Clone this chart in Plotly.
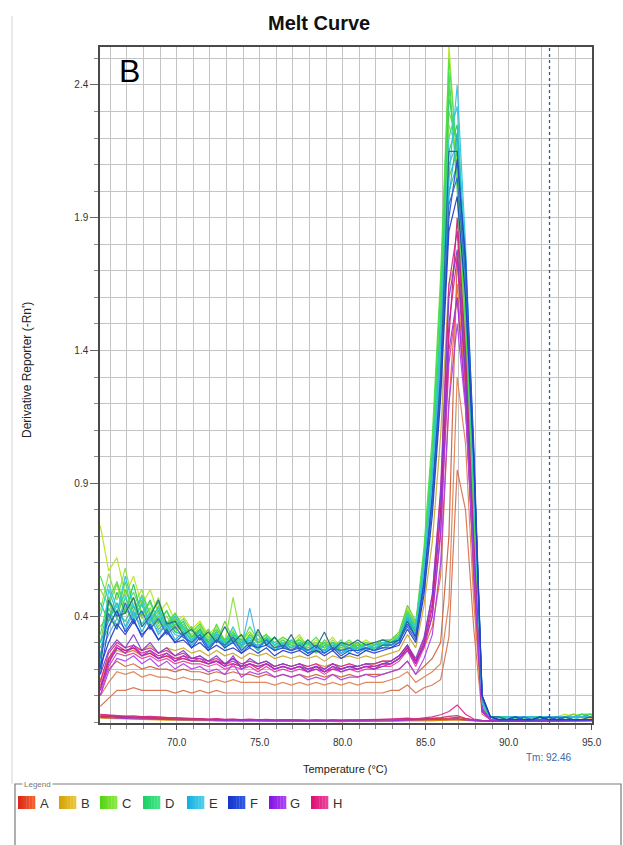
import plotly.graph_objects as go

# ---------------- data (values in hundredths of Derivative Reporter) ----------------
TEMPS = [65.4, 65.9, 66.4, 66.9, 67.4, 67.9, 68.4, 68.9, 69.4, 69.9,
         70.4, 70.9, 71.4, 71.9, 72.4, 72.9, 73.4, 73.9, 74.4, 74.9, 75.4, 75.9, 76.4,
         76.9, 77.4, 77.9, 78.4, 78.9, 79.4, 79.9, 80.4, 80.9, 81.4, 81.9, 82.4, 82.9,
         83.4, 83.9, 84.4, 84.9, 85.4, 85.9, 86.4, 86.9, 87.4, 87.9, 88.4, 88.9,
         89.4, 89.9, 90.4, 90.9, 91.4, 91.9, 92.4, 92.9, 93.4, 93.9, 94.4, 94.9, 95.4]

TM_VALUE = 92.46

ROW_A = [
    [6, 9, 12, 12, 13, 12, 12, 12, 12, 11,
     12, 11, 12, 11, 12, 11, 11, 11, 11, 11, 11, 11, 11,
     11, 11, 11, 11, 11, 11, 11, 11, 11, 11, 11, 11, 12,
     12, 14, 11, 13, 14, 16, 32, 95, 80, 35, 3, 1,
     1, 1, 1, 1, 1, 1, 1, 1, 1, 1, 1, 1, 1],
    [10, 15, 19, 18, 19, 17, 18, 17, 17, 16,
     17, 16, 16, 15, 16, 15, 16, 15, 15, 15, 15, 14, 15,
     14, 15, 14, 15, 14, 15, 14, 15, 14, 15, 15, 15, 16,
     17, 19, 15, 17, 19, 22, 45, 130, 105, 45, 4, 1,
     1, 1, 1, 1, 1, 1, 1, 1, 1, 1, 1, 1, 1],
    [14, 20, 23, 21, 22, 20, 21, 20, 20, 19,
     20, 19, 19, 18, 19, 18, 19, 18, 18, 17, 18, 17, 18,
     17, 18, 17, 18, 17, 18, 17, 18, 17, 18, 18, 18, 19,
     20, 23, 18, 21, 24, 30, 70, 175, 130, 52, 4, 1,
     1, 1, 1, 1, 1, 1, 1, 1, 1, 1, 1, 1, 1],
    [16, 24, 28, 26, 27, 25, 26, 24, 25, 24,
     24, 23, 23, 22, 23, 22, 22, 21, 22, 21, 22, 21, 22,
     21, 22, 21, 22, 21, 22, 21, 22, 21, 22, 22, 23, 23,
     25, 29, 23, 28, 36, 55, 120, 165, 125, 55, 4, 1,
     1, 1, 1, 1, 1, 1, 1, 1, 1, 1, 1, 1, 1],
    [2.8, 2.6, 2.2, 2.0, 1.8, 1.9, 1.6, 1.5, 1.4, 1.3,
     1.2, 1.0, 1.3, 0.9, 1.1, 0.8, 1.0, 0.8, 0.9, 0.7, 0.9, 0.6, 0.8,
     0.7, 0.8, 0.6, 0.7, 0.6, 0.7, 0.5, 0.6, 0.6, 0.7, 0.6, 0.7, 0.8,
     0.9, 1.0, 0.9, 1.0, 1.1, 1.2, 1.5, 1.8, 1.2, 0.8, 0.6, 0.5,
     0.5, 0.5, 0.6, 0.5, 0.5, 0.6, 0.5, 0.6, 0.7, 0.6, 0.7, 0.8, 0.8],
    [2.2, 2.4, 2.0, 1.9, 1.7, 1.6, 1.7, 1.4, 1.3, 1.2,
     1.0, 1.1, 0.8, 1.0, 0.7, 0.9, 0.6, 0.8, 0.7, 0.8, 0.5, 0.7, 0.6,
     0.7, 0.5, 0.6, 0.5, 0.7, 0.4, 0.6, 0.5, 0.6, 0.5, 0.6, 0.7, 0.7,
     0.8, 0.9, 0.8, 0.9, 1.0, 1.1, 1.3, 1.4, 1.0, 0.7, 0.5, 0.4,
     0.4, 0.5, 0.4, 0.5, 0.5, 0.4, 0.5, 0.5, 0.6, 0.5, 0.6, 0.6, 0.7],
    [2.0, 2.1, 1.8, 1.6, 1.5, 1.4, 1.3, 1.2, 1.1, 1.0,
     0.9, 0.8, 0.9, 0.6, 0.7, 0.5, 0.6, 0.4, 0.5, 0.4, 0.5, 0.3, 0.4,
     0.3, 0.4, 0.3, 0.4, 0.3, 0.3, 0.2, 0.3, 0.3, 0.4, 0.3, 0.4, 0.4,
     0.5, 0.6, 0.5, 0.6, 0.6, 0.7, 0.9, 1.0, 0.7, 0.5, 0.3, 0.3,
     0.3, 0.3, 0.4, 0.3, 0.3, 0.4, 0.3, 0.4, 0.4, 0.4, 0.5, 0.5, 0.5],
]

ROW_B = [
    [15, 24, 27, 26, 28, 27, 29, 26, 28, 27,
     28, 26, 27, 25, 27, 25, 26, 24, 26, 25, 26, 24, 25,
     24, 25, 24, 25, 23, 25, 24, 25, 24, 25, 24, 25, 26,
     27, 33, 28, 44, 68, 108, 165, 176, 140, 80, 7, 2,
     2, 2, 2, 2, 2, 2, 2, 2, 2, 3, 2, 2, 2],
    [1.5, 1.4, 1.2, 1.1, 1.0, 1.1, 0.9, 0.9, 0.8, 0.8,
     0.7, 0.8, 0.6, 0.7, 0.5, 0.6, 0.5, 0.6, 0.4, 0.5, 0.4, 0.5, 0.4,
     0.4, 0.5, 0.4, 0.4, 0.3, 0.4, 0.4, 0.5, 0.4, 0.5, 0.5, 0.5, 0.6,
     0.6, 0.7, 0.6, 0.7, 0.7, 0.8, 0.9, 1.0, 0.8, 0.6, 0.5, 0.5,
     0.5, 0.5, 0.6, 0.6, 0.7, 0.7, 0.8, 0.8, 0.9, 1.0, 1.1, 1.2, 1.3],
]

ROW_C = [
    [74, 57, 62, 48, 55, 44, 50, 41, 45, 38,
     40, 35, 38, 33, 36, 31, 35, 30, 34, 31, 33, 29, 32,
     30, 33, 28, 31, 29, 32, 28, 30, 29, 31, 29, 30, 31,
     33, 43, 37, 60, 95, 150, 255, 210, 140, 70, 5, 2,
     2, 2, 1, 2, 2, 1, 2, 2, 3, 2, 2, 3, 3],
    [50, 44, 52, 41, 47, 39, 43, 36, 40, 34,
     37, 32, 36, 30, 34, 29, 33, 28, 32, 30, 31, 28, 30,
     29, 31, 27, 30, 28, 30, 27, 29, 28, 30, 28, 29, 30,
     32, 41, 35, 62, 100, 155, 230, 220, 160, 85, 6, 2,
     2, 1, 2, 2, 1, 2, 2, 2, 2, 3, 2, 2, 3],
    [30, 45, 39, 50, 42, 46, 37, 44, 35, 39,
     33, 36, 31, 35, 30, 38, 31, 33, 29, 34, 30, 32, 28,
     31, 29, 30, 27, 31, 28, 29, 30, 28, 29, 30, 29, 31,
     34, 44, 38, 58, 90, 140, 240, 205, 150, 75, 4, 2,
     2, 2, 2, 1, 2, 2, 2, 2, 2, 2, 3, 3, 3],
    [42, 56, 46, 58, 44, 50, 40, 47, 36, 41,
     36, 33, 37, 31, 35, 30, 47, 31, 34, 30, 33, 29, 31,
     28, 32, 29, 30, 28, 31, 27, 29, 30, 28, 29, 31, 30,
     33, 42, 36, 64, 102, 160, 225, 215, 165, 90, 7, 2,
     1, 2, 2, 2, 1, 2, 2, 1, 2, 2, 2, 3, 2],
    [36, 40, 35, 43, 38, 45, 35, 40, 34, 37,
     35, 31, 34, 30, 33, 31, 32, 29, 33, 30, 31, 28, 30,
     28, 30, 27, 29, 28, 30, 27, 28, 29, 28, 28, 30, 30,
     32, 40, 34, 55, 88, 138, 205, 215, 170, 95, 8, 2,
     2, 1, 2, 1, 2, 2, 1, 2, 2, 2, 2, 2, 3],
]

ROW_D = [
    [25, 43, 36, 47, 40, 44, 38, 42, 35, 40,
     34, 31, 35, 29, 33, 28, 32, 29, 31, 28, 32, 27, 30,
     28, 30, 27, 29, 27, 30, 26, 28, 28, 29, 28, 29, 30,
     32, 40, 35, 61, 98, 152, 235, 218, 158, 80, 6, 2,
     2, 2, 1, 2, 2, 2, 1, 2, 2, 2, 2, 3, 2],
    [45, 38, 49, 41, 52, 40, 46, 37, 42, 35,
     38, 32, 35, 30, 34, 29, 33, 31, 30, 33, 29, 32, 28,
     30, 29, 31, 28, 30, 27, 29, 28, 30, 27, 29, 30, 29,
     31, 39, 34, 57, 93, 145, 215, 225, 172, 92, 7, 2,
     2, 2, 2, 1, 2, 1, 2, 2, 2, 2, 3, 2, 2],
    [33, 47, 40, 53, 39, 48, 41, 45, 37, 41,
     36, 32, 34, 29, 37, 30, 34, 28, 33, 30, 32, 29, 31,
     29, 28, 30, 26, 29, 28, 31, 27, 28, 29, 30, 28, 29,
     31, 41, 36, 63, 104, 163, 245, 200, 135, 68, 4, 1,
     2, 2, 1, 2, 2, 2, 2, 1, 2, 2, 2, 2, 3],
    [28, 36, 42, 38, 44, 37, 41, 35, 38, 34,
     33, 30, 34, 29, 32, 28, 31, 29, 30, 27, 31, 28, 29,
     27, 29, 26, 28, 27, 29, 26, 27, 28, 27, 28, 29, 29,
     31, 38, 33, 54, 86, 135, 200, 210, 165, 92, 8, 2,
     1, 2, 2, 2, 1, 2, 2, 2, 1, 2, 2, 2, 2],
    [55, 46, 53, 43, 49, 41, 45, 38, 42, 36,
     39, 34, 37, 32, 35, 31, 34, 30, 36, 31, 33, 30, 32,
     30, 31, 29, 32, 28, 30, 29, 31, 28, 30, 29, 31, 31,
     33, 42, 37, 66, 108, 168, 250, 212, 148, 74, 5, 2,
     2, 2, 2, 2, 1, 2, 2, 2, 2, 2, 3, 3, 2],
]

ROW_E = [
    [22, 50, 41, 55, 43, 47, 39, 43, 36, 40,
     35, 31, 34, 29, 33, 30, 36, 29, 32, 28, 31, 30, 29,
     31, 28, 30, 27, 29, 28, 30, 26, 29, 28, 29, 30, 30,
     32, 40, 35, 58, 92, 140, 205, 240, 180, 100, 9, 2,
     2, 1, 2, 2, 2, 1, 2, 2, 2, 2, 2, 2, 2],
    [30, 38, 45, 36, 42, 34, 40, 33, 37, 31,
     34, 29, 33, 28, 32, 29, 31, 27, 30, 29, 30, 27, 29,
     27, 29, 26, 28, 27, 29, 26, 28, 27, 28, 27, 29, 29,
     31, 39, 33, 55, 88, 136, 198, 222, 176, 98, 8, 2,
     2, 2, 1, 2, 1, 2, 2, 1, 2, 2, 2, 2, 2],
    [40, 52, 43, 48, 38, 45, 36, 41, 34, 38,
     36, 30, 33, 31, 34, 28, 33, 30, 31, 27, 32, 29, 30,
     28, 30, 28, 29, 26, 30, 28, 29, 27, 29, 28, 30, 30,
     32, 41, 36, 60, 96, 148, 220, 232, 170, 90, 7, 2,
     2, 2, 2, 1, 2, 2, 2, 2, 2, 1, 2, 2, 2],
    [26, 33, 39, 35, 41, 36, 39, 34, 37, 33,
     32, 30, 33, 28, 31, 29, 30, 28, 43, 29, 30, 27, 29,
     28, 29, 27, 28, 27, 28, 26, 28, 27, 28, 27, 28, 29,
     30, 38, 33, 56, 90, 139, 210, 218, 166, 94, 8, 2,
     1, 2, 2, 2, 2, 1, 2, 2, 2, 2, 2, 2, 2],
]

ROW_F = [
    [20, 46, 40, 41, 47, 36, 40, 46, 37, 38,
     33, 35, 31, 34, 30, 36, 30, 33, 28, 35, 29, 32, 28,
     33, 27, 31, 28, 34, 27, 30, 29, 31, 29, 30, 31, 30,
     31, 38, 32, 52, 85, 130, 215, 215, 172, 100, 10, 2,
     2, 1, 2, 1, 1, 2, 1, 1, 2, 1, 1, 2, 1],
    [18, 36, 42, 34, 39, 32, 37, 31, 35, 30,
     33, 28, 32, 27, 31, 28, 30, 26, 29, 28, 29, 27, 28,
     27, 28, 26, 27, 26, 28, 25, 27, 27, 28, 27, 28, 28,
     30, 37, 32, 53, 84, 128, 190, 212, 175, 104, 10, 2,
     1, 1, 2, 1, 1, 1, 2, 1, 1, 1, 1, 1, 1],
    [24, 41, 35, 45, 37, 42, 35, 39, 33, 36,
     32, 30, 33, 28, 31, 29, 32, 27, 30, 28, 31, 28, 29,
     27, 29, 27, 29, 26, 28, 27, 28, 26, 28, 27, 29, 29,
     31, 36, 31, 50, 82, 126, 195, 205, 168, 100, 9, 2,
     1, 1, 1, 2, 1, 1, 1, 2, 1, 1, 1, 1, 1],
    [21, 30, 37, 33, 38, 33, 36, 31, 34, 30,
     31, 28, 30, 27, 29, 27, 28, 26, 28, 26, 28, 25, 27,
     26, 27, 25, 27, 25, 27, 24, 26, 25, 27, 26, 27, 28,
     29, 35, 30, 48, 78, 122, 185, 198, 160, 98, 10, 2,
     1, 1, 1, 1, 1, 2, 1, 1, 1, 1, 1, 1, 1],
]

ROW_G = [
    [12, 22, 28, 26, 29, 25, 27, 24, 26, 23,
     25, 23, 24, 22, 23, 21, 25, 20, 22, 21, 22, 20, 21,
     20, 21, 19, 20, 19, 21, 19, 20, 20, 21, 20, 21, 22,
     24, 27, 22, 29, 40, 72, 140, 160, 120, 58, 4, 1,
     1, 1, 1, 1, 1, 1, 1, 1, 1, 1, 1, 1, 1],
    [18, 27, 31, 28, 33, 27, 30, 26, 28, 25,
     27, 24, 25, 23, 25, 22, 24, 21, 24, 22, 23, 21, 22,
     21, 22, 20, 21, 20, 22, 20, 21, 21, 22, 21, 22, 23,
     25, 29, 24, 32, 48, 85, 160, 178, 130, 62, 5, 1,
     1, 1, 1, 1, 1, 1, 2, 1, 1, 1, 1, 1, 1],
    [10, 19, 24, 23, 25, 22, 24, 21, 23, 20,
     22, 20, 21, 19, 20, 18, 22, 17, 19, 18, 19, 17, 18,
     17, 18, 16, 17, 16, 18, 16, 17, 17, 18, 17, 18, 19,
     20, 23, 18, 24, 33, 60, 120, 150, 118, 60, 5, 1,
     1, 1, 1, 1, 1, 1, 1, 1, 1, 1, 1, 1, 1],
    [1.8, 1.6, 1.5, 1.4, 1.3, 1.2, 1.2, 1.1, 1.0, 1.0,
     0.9, 0.9, 0.8, 0.8, 0.7, 0.7, 0.7, 0.6, 0.6, 0.6, 0.6, 0.5, 0.5,
     0.5, 0.5, 0.5, 0.5, 0.4, 0.5, 0.4, 0.5, 0.5, 0.5, 0.5, 0.6, 0.6,
     0.7, 0.8, 0.7, 0.8, 0.9, 1.0, 1.1, 1.2, 0.9, 0.6, 0.4, 0.4,
     0.4, 0.4, 0.4, 0.4, 0.5, 0.4, 0.5, 0.5, 0.5, 0.5, 0.6, 0.6, 0.6],
]

ROW_H = [
    [12, 24, 29, 27, 28, 26, 27, 25, 26, 24,
     25, 24, 24, 23, 23, 22, 23, 21, 22, 21, 22, 20, 21,
     20, 21, 20, 21, 19, 21, 20, 21, 20, 21, 21, 22, 22,
     24, 28, 22, 30, 45, 80, 150, 175, 128, 60, 4, 1,
     1, 1, 1, 1, 1, 1, 1, 1, 1, 1, 1, 1, 1],
    [15, 26, 30, 28, 29, 27, 28, 26, 27, 25,
     26, 24, 25, 23, 24, 22, 24, 22, 23, 22, 23, 21, 22,
     21, 22, 21, 22, 20, 22, 21, 22, 21, 22, 22, 23, 23,
     25, 29, 23, 31, 48, 88, 165, 185, 135, 64, 5, 1,
     1, 1, 1, 1, 1, 1, 1, 1, 1, 1, 1, 1, 1],
    [10, 21, 26, 25, 26, 24, 25, 23, 24, 22,
     23, 22, 22, 21, 22, 20, 21, 20, 21, 19, 21, 19, 20,
     19, 20, 19, 20, 18, 20, 19, 20, 19, 20, 20, 21, 21,
     23, 27, 21, 28, 40, 70, 135, 160, 120, 57, 4, 1,
     1, 1, 1, 1, 1, 1, 1, 1, 1, 1, 1, 1, 1],
    [13, 23, 28, 27, 28, 25, 26, 24, 25, 23,
     24, 23, 23, 22, 23, 21, 22, 21, 22, 20, 22, 20, 21,
     20, 21, 19, 21, 19, 20, 20, 21, 20, 21, 20, 22, 22,
     24, 28, 23, 29, 43, 78, 145, 190, 140, 68, 5, 1,
     1, 1, 1, 1, 1, 1, 1, 1, 1, 1, 1, 1, 1],
    [3.0, 2.7, 2.5, 2.3, 2.4, 2.1, 2.2, 1.9, 1.8, 1.7,
     1.6, 1.4, 1.5, 1.2, 1.4, 1.1, 1.2, 1.0, 1.2, 0.9, 1.1, 0.9, 1.0,
     0.9, 1.0, 0.8, 0.9, 0.8, 1.0, 0.8, 0.9, 0.9, 1.0, 1.0, 1.1, 1.2,
     1.3, 1.5, 1.3, 1.6, 2.0, 2.8, 4.0, 6.5, 3.0, 1.2, 0.7, 0.6,
     0.6, 0.5, 0.6, 0.6, 0.5, 0.6, 0.6, 0.5, 0.6, 0.7, 0.6, 0.7, 0.7],
    [2.5, 2.3, 2.1, 2.2, 1.9, 2.0, 1.7, 1.8, 1.6, 1.5,
     1.4, 1.3, 1.4, 1.1, 1.2, 1.0, 1.1, 0.9, 1.0, 0.9, 1.0, 0.8, 0.9,
     0.8, 0.9, 0.7, 0.9, 0.7, 0.8, 0.8, 0.9, 0.8, 0.9, 0.9, 1.0, 1.0,
     1.1, 1.3, 1.1, 1.3, 1.5, 1.7, 2.2, 2.5, 1.5, 0.9, 0.6, 0.5,
     0.5, 0.5, 0.5, 0.6, 0.5, 0.5, 0.6, 0.5, 0.6, 0.6, 0.6, 0.7, 0.7],
]

ROW_NAMES = ["A", "B", "C", "D", "E", "F", "G", "H"]
DRAW_ORDER = ["A", "B", "C", "D", "H", "G", "E", "F"]

# ---------------- styles ----------------
ROW_LINE_COLORS = {
    "A": ["#d9704e", "#e08050", "#d0603a", "#e86a2a", "#e0301e", "#e85020", "#d02a2a"],
    "B": ["#c8a82a", "#d8a000"],
    "C": ["#b5e61d", "#7fd62a", "#66cc33", "#8ee03a", "#5ccf2a"],
    "D": ["#2ed573", "#20c864", "#3fdc5a", "#28c98a", "#4be04b"],
    "E": ["#2ec4e6", "#1fb0d8", "#33cccc", "#46b4e8"],
    "F": ["#1f6a82", "#2346d9", "#3366cc", "#1e3cc8"],
    "G": ["#9a35e0", "#7a3fd0", "#b040e8", "#9a35e0"],
    "H": ["#e0208c", "#d6288f", "#ea3a9e", "#c8207a", "#e0208c", "#c0307a"],
}
LEGEND_GRAD = {
    "A": ("#dc2a18", "#f2602e"), "B": ("#d4a408", "#eac43a"),
    "C": ("#58d418", "#86ea40"), "D": ("#1cd268", "#44e286"),
    "E": ("#18b0e0", "#4acdea"), "F": ("#1836cc", "#2e56e2"),
    "G": ("#8616e4", "#ac40f2"), "H": ("#de1278", "#ec3e98"),
}
FONT = "Liberation Sans, Arial, sans-serif"

ROWS = {"A": ROW_A, "B": ROW_B, "C": ROW_C, "D": ROW_D,
        "E": ROW_E, "F": ROW_F, "G": ROW_G, "H": ROW_H}

fig = go.Figure()
for rn in DRAW_ORDER:
    for i, well in enumerate(ROWS[rn]):
        fig.add_trace(go.Scatter(
            x=TEMPS, y=[v / 100 for v in well], mode="lines",
            line=dict(color=ROW_LINE_COLORS[rn][i], width=1.2),
            opacity=0.92, showlegend=False, hoverinfo="skip"))

# Tm marker line
fig.add_shape(type="line", xref="x", yref="paper", x0=TM_VALUE, x1=TM_VALUE, y0=0, y1=1,
              line=dict(color="#34589c", width=1.3, dash="dot"))

# pixel -> paper helpers (plot area: x 100..592, y 47..723)
L, R, T, B = 100, 592, 47, 723
def px(x):
    return (x - L) / (R - L)
def py(y):
    return (B - y) / (B - T)

grid = "#c4c4c4"
fig.update_layout(
    width=623, height=845,
    margin=dict(l=L, r=623 - R, t=T, b=845 - B),
    paper_bgcolor="white", plot_bgcolor="white",
    font=dict(family=FONT, color="#222"),
    xaxis=dict(range=[65.38, 95.02], dtick=5, tick0=70, tickformat=".1f",
               ticks="outside", ticklen=5, tickcolor="#555",
               showgrid=True, gridcolor=grid, gridwidth=1, zeroline=False,
               showline=True, mirror=True, linecolor="#4a4a4a", linewidth=1.5,
               tickfont=dict(family=FONT, size=10, color="#333"),
               ticklabelstandoff=4,
               minor=dict(dtick=1, tick0=70, ticks="outside", ticklen=4, tickcolor="#888",
                          showgrid=True, gridcolor=grid, gridwidth=1)),
    yaxis=dict(range=[-0.003, 2.543], dtick=0.5, tick0=0.4, tickformat=".1f",
               ticks="outside", ticklen=8, tickcolor="#666",
               showgrid=True, gridcolor=grid, gridwidth=1, zeroline=False,
               showline=True, mirror=True, linecolor="#4a4a4a", linewidth=1.5,
               tickfont=dict(family=FONT, size=10, color="#333"),
               minor=dict(dtick=0.1, tick0=0.4, ticks="outside", ticklen=4, tickcolor="#888",
                          showgrid=True, gridcolor=grid, gridwidth=1)),
)

ann = []
ann.append(dict(text="<b>Melt Curve</b>", x=px(319), y=py(23), xref="paper", yref="paper",
                showarrow=False, xanchor="center", yanchor="middle",
                font=dict(family=FONT, size=20, color="#111")))
ann.append(dict(text="B", x=px(129), y=py(71), xref="paper", yref="paper",
                showarrow=False, xanchor="center", yanchor="middle",
                font=dict(family=FONT, size=32, color="#000")))
ann.append(dict(text="Derivative Reporter (-Rn')", x=px(27), y=py(370), xref="paper", yref="paper",
                showarrow=False, textangle=-90, xanchor="center", yanchor="middle",
                font=dict(family=FONT, size=12, color="#222")))
ann.append(dict(text="Temperature (°C)", x=px(345), y=py(769), xref="paper", yref="paper",
                showarrow=False, xanchor="center", yanchor="middle",
                font=dict(family=FONT, size=11, color="#222")))
ann.append(dict(text="Tm: " + f"{TM_VALUE:.2f}", x=px(548), y=py(757), xref="paper", yref="paper",
                showarrow=False, xanchor="center", yanchor="middle",
                font=dict(family=FONT, size=10, color="#3d6aa8")))

shapes = []
# page border line on the left
shapes.append(dict(type="line", xref="paper", yref="paper", x0=px(12), x1=px(12),
                   y0=py(16), y1=py(784), line=dict(color="#d4d4d4", width=1)))
# legend box
shapes.append(dict(type="rect", xref="paper", yref="paper", x0=px(15), x1=px(621),
                   y0=py(870), y1=py(784), line=dict(color="#7a7a7a", width=1.2)))
ann.append(dict(text="Legend", x=px(22), y=py(784), xref="paper", yref="paper",
                showarrow=False, xanchor="left", yanchor="middle", bgcolor="white",
                borderpad=1, font=dict(family=FONT, size=8, color="#777")))

def mix(c1, c2, t):
    a = [int(c1[i:i + 2], 16) for i in (1, 3, 5)]
    b = [int(c2[i:i + 2], 16) for i in (1, 3, 5)]
    return "#" + "".join(f"{round(a[k] + (b[k] - a[k]) * t):02x}" for k in range(3))

LEGEND_X = [18, 59, 100, 143, 187, 228, 269, 311]
for rn, lx in zip(ROW_NAMES, LEGEND_X):
    c1, c2 = LEGEND_GRAD[rn]
    n = 6
    w = 17 / n
    for s in range(n):
        shapes.append(dict(type="rect", xref="paper", yref="paper",
                           x0=px(lx + s * w), x1=px(lx + (s + 1) * w + 0.3),
                           y0=py(809), y1=py(796), line=dict(width=0),
                           fillcolor=mix(c1, c2, s / (n - 1))))
    ann.append(dict(text=rn, x=px(lx + 26), y=py(803), xref="paper", yref="paper",
                    showarrow=False, xanchor="center", yanchor="middle",
                    font=dict(family=FONT, size=13, color="#333")))

fig.update_layout(annotations=ann, shapes=list(fig.layout.shapes) + shapes)

fig.write_html("out.html")
